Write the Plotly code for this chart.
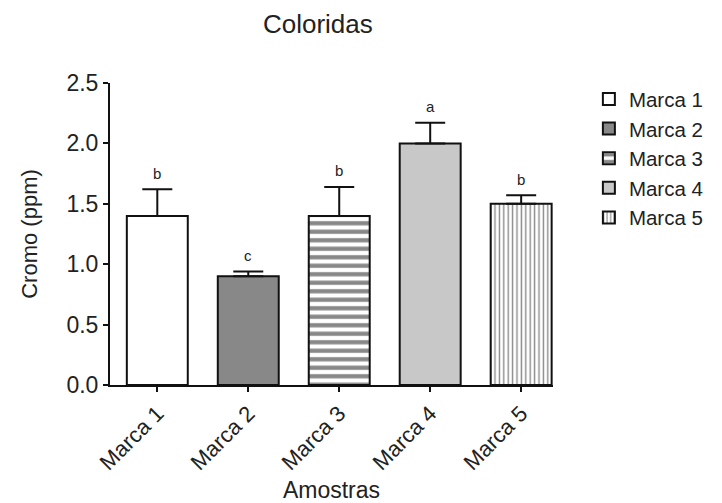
import plotly.graph_objects as go

categories = ["Marca 1", "Marca 2", "Marca 3", "Marca 4", "Marca 5"]
values = [1.40, 0.90, 1.40, 2.00, 1.50]
errors = [0.22, 0.04, 0.24, 0.17, 0.07]
letters = ["b", "c", "b", "a", "b"]
colors = ["#ffffff", "#888888", "#ffffff", "#c8c8c8", "#ffffff"]
patterns = ["", "", "-", "", "|"]
pattern_sizes = [8, 8, 8.5, 8, 4.4]
pattern_solid = [0.3, 0.3, 0.5, 0.3, 0.32]

FONT = "Liberation Sans, Arial, sans-serif"

fig = go.Figure()
for i, cat in enumerate(categories):
    fig.add_trace(go.Bar(
        x=[cat], y=[values[i]], name=cat, width=0.67,
        marker=dict(color=colors[i], line=dict(color="#111111", width=2),
                    pattern=dict(shape=patterns[i], fgcolor="#111111", bgcolor=colors[i],
                                 size=pattern_sizes[i], solidity=pattern_solid[i])),
        error_y=dict(type="data", array=[errors[i]], arrayminus=[0], symmetric=False,
                     color="#111111", thickness=2, width=15),
    ))
    fig.add_annotation(x=cat, y=values[i] + errors[i], text=letters[i], showarrow=False,
                       yshift=16, font=dict(size=15, color="#222222", family=FONT))

fig.update_layout(
    width=714, height=495,
    margin=dict(l=102, r=169, t=75, b=118, autoexpand=False),
    paper_bgcolor="white", plot_bgcolor="white",
    barmode="overlay",
    font=dict(family=FONT, color="#222222", size=22),
    title=dict(text="Coloridas", x=0.434, xanchor="center", y=0.968, yanchor="middle",
               font=dict(size=26, family=FONT, color="#222222")),
    legend=dict(x=1.081, y=1.013, xanchor="left", yanchor="top", font=dict(size=20.5),
                tracegroupgap=0, itemwidth=30, bgcolor="rgba(0,0,0,0)"),
    xaxis=dict(range=[-0.52, 4.35], showline=True, linecolor="#111111", linewidth=2,
               ticks="outside", ticklen=5, tickwidth=2, tickcolor="#111111",
               tickangle=-45, tickfont=dict(size=22), showgrid=False, zeroline=False,
               automargin=False,
               title=dict(text="Amostras", font=dict(size=23), standoff=10)),
    yaxis=dict(range=[0, 2.5], tickvals=[0, 0.5, 1.0, 1.5, 2.0, 2.5],
               ticktext=["0.0", "0.5", "1.0", "1.5", "2.0", "2.5"],
               showline=True, linecolor="#111111", linewidth=2,
               ticks="outside", ticklen=5, tickwidth=2, tickcolor="#111111",
               tickfont=dict(size=23), showgrid=False, zeroline=False,
               automargin=False,
               title=dict(text="Cromo (ppm)", font=dict(size=22), standoff=23)),
)

fig.write_html("out.html")
